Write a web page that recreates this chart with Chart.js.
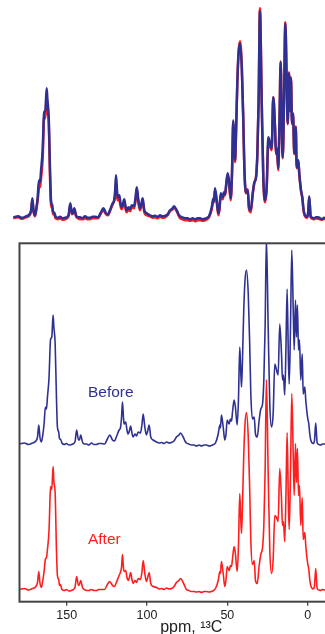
<!DOCTYPE html>
<html>
<head>
<meta charset="utf-8">
<script src="https://cdn.jsdelivr.net/npm/chart.js@4.4.0/dist/chart.umd.min.js"></script>
<style>
  html, body { margin: 0; padding: 0; background: #fff; overflow: hidden; width: 325px; height: 634px; }
  #top-wrap { position: absolute; left: 0; top: 0; width: 362px; height: 225px; }
  #bottom-wrap { position: absolute; left: 0; top: 230px; width: 368px; height: 404px; }
</style>
</head>
<body>
<div id="top-wrap"><canvas id="overlay-chart" width="362" height="225"></canvas></div>
<div id="bottom-wrap"><canvas id="stacked-chart" width="368" height="404"></canvas></div>
<script>
const shifts = [
  179.3, 176.3, 173.8, 171.4, 169.2, 168.2, 167.4, 166.7, 165.8, 165.1,
  164.1, 163.3, 162.6, 162.0, 161.0, 160.3, 160.0, 159.3, 158.5, 158.0,
  157.2, 156.4, 155.8, 155.0, 154.5, 153.9, 153.0, 151.5, 150.2, 148.6,
  147.1, 144.9, 143.8, 142.7, 142.1, 141.3, 140.2, 139.0, 137.7, 136.2,
  134.6, 133.0, 131.5, 130.0, 128.4, 126.5, 124.7, 123.2, 121.5, 120.3,
  119.1, 117.4, 116.6, 115.9, 115.3, 114.7, 114.3, 113.3, 112.5, 111.8,
  111.0, 110.2, 109.4, 108.7, 107.5, 106.6, 105.5, 104.1, 103.2, 102.4,
  101.4, 100.4, 99.6, 98.7, 97.7, 96.2, 94.1, 92.5, 91.0, 89.4,
  87.9, 86.3, 84.8, 83.2, 81.7, 80.1, 79.2, 77.5, 76.4, 75.5,
  74.0, 72.4, 70.8, 69.2, 67.6, 66.1, 64.5, 63.0, 61.4, 59.9,
  58.6, 57.4, 55.7, 54.7, 54.3, 53.7, 52.6, 51.6, 50.9, 50.1,
  48.9, 48.1, 47.4, 46.8, 45.8, 45.0, 43.9, 43.1, 42.3, 41.7,
  41.2, 40.6, 39.8, 39.0, 38.1, 37.0, 36.1, 35.4, 34.4, 33.3,
  32.5, 31.4, 30.2, 29.2, 28.1, 27.3, 26.5, 25.7, 24.6, 23.6,
  22.5, 21.5, 20.5, 19.4, 18.4, 17.4, 16.3, 15.7, 15.1, 14.3,
  13.5, 12.8, 12.0, 11.5, 10.7, 9.9, 9.0, 8.4, 7.6, 7.0,
  6.4, 5.7, 5.1, 4.3, 3.4, 2.8, 1.8, 1.2, 0.1, -0.7,
  -1.3, -1.9, -3.4, -4.2, -5.0, -5.9, -7.0, -8.0, -9.3, -10.5,
  -11.8, -13.0, -14.2, -15.4
];

// intensity (a.u.) before treatment
const before = [
  1, 2, 0.5, 2, 4, 8, 20, 8, 3, 8,
  21, 38, 36, 48, 68, 100, 106, 108, 130, 118,
  101, 48, 18, 13, 6, 6, 2, 0.5, 1.5, 0,
  0.5, 3, 15, 5, 5, 10, 3, 1, 1, 0,
  2, 0.5, 0.5, 1.5, 1.5, 1, 6, 10, 5, 4,
  8, 15, 17, 27, 43, 28, 21, 23, 15, 11,
  14, 19, 12, 8, 11, 9, 13, 12, 20, 31,
  18, 10, 14, 20, 8, 5, 3, 2, 2.5, 1.5,
  3, 2, 2.5, 4, 8, 10, 12, 8, 4, 2,
  1, 0, 0, -1, 0, -1, 0, 0, -1, -0.5,
  0.5, 2, 11, 20, 17, 30, 18, 5, 10, 25,
  21, 26, 24, 33, 45, 38, 20, 45, 98, 75,
  58, 85, 135, 165, 175, 151, 101, 51, 26, 28,
  11, 8, 25, 36, 41, 65, 118, 207, 118, 41,
  18, 31, 81, 75, 70, 121, 91, 65, 70, 50,
  100, 156, 85, 61, 118, 195, 135, 95, 145, 108,
  140, 95, 105, 65, 91, 51, 58, 45, 28, 21,
  11, 5, 1.5, 4, 22, 2, 0.5, 0, 1, 1,
  0, -1, 0.5, 0
];

// intensity (a.u.) after treatment
const after = [
  0, 1, -0.5, 1, 3, 7, 18, 7, 2, 7,
  18, 30, 32, 40, 60, 96, 103, 100, 123, 108,
  96, 40, 14, 10, 4, 5, 0, -1, 0, -1.5,
  -1, 2, 13, 4, 5, 9, 2, 0, -1, -1,
  0, -1, -1, 0, 0, 0, 5, 8, 4, 3,
  7, 14, 17, 22, 35, 22, 18, 19, 12, 9,
  12, 17, 10, 6, 9, 7, 11, 10, 17, 29,
  16, 8, 12, 17, 6, 3, 2, 0.5, 1, 0,
  1.5, 0.5, 1, 3, 7, 9, 11, 7, 3, 0,
  -1, -2, -2, -2.5, -2, -3, -2, -2, -2.5, -2,
  -1, 1, 9, 18, 16, 28, 16, 3, 9, 23,
  19, 24, 23, 31, 43, 36, 18, 43, 96, 73,
  56, 84, 134, 166, 177, 152, 100, 49, 25, 29,
  9, 6, 24, 35, 42, 64, 118, 210, 117, 40,
  16, 30, 74, 72, 68, 121, 90, 64, 68, 48,
  98, 157, 84, 60, 117, 196, 134, 94, 146, 107,
  141, 94, 104, 64, 92, 50, 57, 44, 27, 20,
  10, 4, 0.5, 3, 21, 1, -0.5, -1, 0, -0.5,
  -1, -1.5, -0.5, -1
];

const tickValues = [150, 100, 50, 0];
const traceNames = ['Before', 'After'];
const namePpm = [136.8, 136.8];
const nameLevel = [52, 50];

const BLUE = '#2e3192';
const RED = '#ff1e1e';
const FONT = "'Liberation Sans', Arial, sans-serif";

const toPoints = vals => shifts.map((s, i) => ({ x: s, y: vals[i] }));

const lineStyle = (color, width) => ({
  borderColor: color,
  borderWidth: width,
  pointRadius: 0,
  cubicInterpolationMode: 'monotone',
  borderJoinStyle: 'round'
});

// top panel: both traces overlaid, no axes
new Chart(document.getElementById('overlay-chart'), {
  type: 'line',
  data: {
    datasets: [
      { data: toPoints(before), ...lineStyle(BLUE, 2.5) },
      { data: toPoints(after), ...lineStyle(RED, 2.5) }
    ]
  },
  options: {
    responsive: false,
    animation: false,
    layout: { padding: { left: 13.1, right: 5.5, top: 0, bottom: 0 } },
    plugins: { legend: { display: false }, tooltip: { enabled: false } },
    scales: {
      x: { type: 'linear', reverse: true, min: -34.43, max: 179.4, display: false },
      y: { min: -6.7, max: 218.3, display: false }
    }
  }
});

const framePlugin = {
  id: 'frame',
  afterDraw(chart) {
    const { ctx, chartArea: a } = chart;
    ctx.save();
    ctx.strokeStyle = '#444';
    ctx.lineWidth = 2;
    ctx.strokeRect(a.left, a.top, a.right - a.left, a.bottom - a.top);
    ctx.restore();
  }
};

const namesPlugin = {
  id: 'traceNames',
  afterDatasetsDraw(chart) {
    const { ctx, scales } = chart;
    const axes = [scales.yBefore, scales.yAfter];
    const colors = [BLUE, RED];
    ctx.save();
    ctx.font = '15.5px ' + FONT;
    ctx.textAlign = 'left';
    ctx.textBaseline = 'middle';
    traceNames.forEach((name, i) => {
      ctx.fillStyle = colors[i];
      ctx.fillText(name, scales.x.getPixelForValue(namePpm[i]), axes[i].getPixelForValue(nameLevel[i]));
    });
    ctx.restore();
  }
};

// bottom panel: traces offset on their own axes
new Chart(document.getElementById('stacked-chart'), {
  type: 'line',
  data: {
    datasets: [
      { data: toPoints(after), yAxisID: 'yAfter', ...lineStyle(RED, 1.6) },
      { data: toPoints(before), yAxisID: 'yBefore', ...lineStyle(BLUE, 1.6) }
    ]
  },
  options: {
    responsive: false,
    animation: false,
    layout: { padding: { left: 19.5, right: 5, top: 13.3, bottom: 0 } },
    plugins: { legend: { display: false }, tooltip: { enabled: false } },
    scales: {
      x: {
        type: 'linear',
        reverse: true,
        min: -34.43,
        max: 179.4,
        position: 'bottom',
        afterBuildTicks: s => { s.ticks = tickValues.map(v => ({ value: v })); },
        afterFit: s => { s.height = 32.3; },
        grid: { drawOnChartArea: false, drawTicks: true, tickLength: 4, color: '#444', lineWidth: 1.3 },
        border: { display: false },
        ticks: { padding: 2, color: '#222', autoSkip: false, maxRotation: 0, font: { family: FONT, size: 12.5 } },
        title: {
          display: true,
          text: 'ppm, ¹³C',
          color: '#222',
          padding: 0,
          font: { family: FONT, size: 16, lineHeight: 0.8 }
        }
      },
      yAfter: { display: false, min: -12.2, max: 346.2 },
      yBefore: { display: false, min: -156.7, max: 201.7 }
    }
  },
  plugins: [framePlugin, namesPlugin]
});
</script>
</body>
</html>
